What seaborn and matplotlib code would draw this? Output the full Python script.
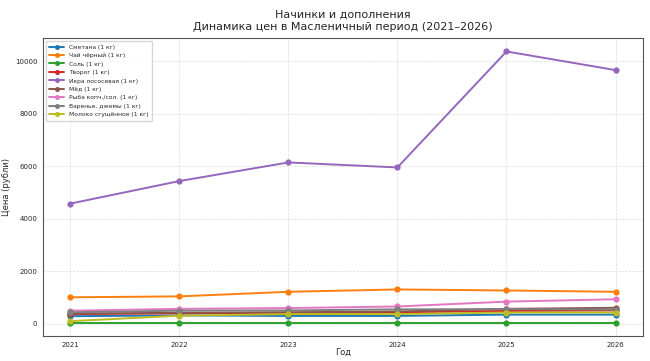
import matplotlib
matplotlib.use("Agg")
import matplotlib.pyplot as plt
import seaborn as sns
import pandas as pd

# Price dynamics for fillings and toppings (rubles per kg)
years = [2021, 2022, 2023, 2024, 2025, 2026]
products = [
    "Сметана (1 кг)", "Чай чёрный (1 кг)", "Соль (1 кг)", "Творог (1 кг)",
    "Икра лососевая (1 кг)", "Мёд (1 кг)", "Рыба копч./сол. (1 кг)",
    "Варенье, джемы (1 кг)", "Молоко сгущённое (1 кг)",
]
smetana = [280, 310, 290, 290, 340, 340]
tea = [1000, 1035, 1210, 1300, 1260, 1210]
salt = [25, 25, 25, 25, 25, 25]
tvorog = [360, 390, 410, 430, 480, 500]
caviar = [4570, 5430, 6140, 5950, 10370, 9660]
honey = [380, 410, 430, 460, 560, 600]
fish = [490, 560, 590, 650, 835, 925]
jam = [430, 490, 500, 540, 550, 530]
condensed = [90, 300, 360, 360, 420, 420]

series = [smetana, tea, salt, tvorog, caviar, honey, fish, jam, condensed]

rows = []
for name, vals in zip(products, series):
    for y, v in zip(years, vals):
        rows.append({"Год": y, "Цена": v, "Продукт": name})
df = pd.DataFrame(rows)

sns.set_style("white")
plt.rcParams["font.family"] = ["DejaVu Sans"]

fig, ax = plt.subplots(figsize=(6.5, 3.61), dpi=100)
fig.subplots_adjust(left=0.066, right=0.989, top=0.895, bottom=0.068)

sns.lineplot(data=df, x="Год", y="Цена", hue="Продукт", hue_order=products,
             palette="tab10", marker="o", markersize=4.5, markeredgewidth=0,
             linewidth=1.4, ax=ax)

ax.set_title("Начинки и дополнения\nДинамика цен в Масленичный период (2021–2026)",
             fontsize=8, linespacing=1.2)
ax.set_xlabel("Год", fontsize=6, labelpad=0)
ax.set_ylabel("Цена (рубли)", fontsize=6, labelpad=3)
ax.set_xticks(years)
ax.tick_params(labelsize=5, length=2, width=0.5, pad=2)
ax.grid(True, linestyle="--", linewidth=0.5, alpha=0.7)
for s in ax.spines.values():
    s.set_linewidth(0.8)
    s.set_color("#555555")

ax.legend(loc="upper left", fontsize=4.3, frameon=True, markerscale=0.8,
          handlelength=2.5, labelspacing=0.55, borderpad=0.6)

fig.savefig("out.png", dpi=100)
